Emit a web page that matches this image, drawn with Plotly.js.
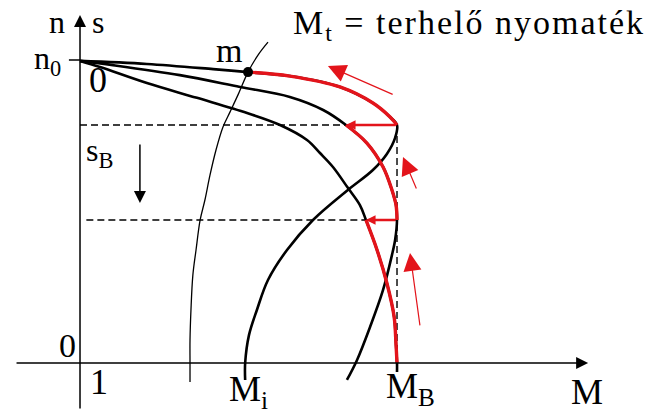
<!DOCTYPE html>
<html>
<head>
<meta charset="utf-8">
<script src="https://cdn.plot.ly/plotly-3.0.1.min.js"></script>
<style>html,body{margin:0;padding:0;background:#fff;}#chart{width:672px;height:414px;}</style>
</head>
<body>
<div id="chart"></div>
<script>
// Torque M (x, in units of M_B) vs slip s (y, 0 at n0 .. 1 at standstill)
const curve1_M = [0, .211, .420, .530, .662, .820, .924, .978, 1.000, .994, .968, .924, .845, .735, .653, .593, .558, .533, .521, .521];
const curve1_s = [.003, .013, .030, .040, .053, .089, .142, .188, .2145, .257, .310, .363, .429, .528, .627, .726, .825, .908, 1.000, 1.056];
const curve2_M = [0, .104, .315, .505, .662, .767, .839, .905, .956, .984, .997, 1.000, .994, .984, .956, .915, .874, .842];
const curve2_s = [.003, .017, .050, .089, .122, .165, .2145, .274, .353, .429, .479, .528, .594, .644, .759, .881, .990, 1.056];
const curve3_M = [0, .063, .211, .369, .527, .631, .716, .757, .798, .845, .883, .902, .937, .968, .991, .997, 1.000, 1.000];
const curve3_s = [.003, .023, .076, .125, .175, .2145, .264, .307, .353, .422, .479, .528, .627, .736, .848, .941, 1.000, 1.030];
const load_M = [.593, .562, .530, .498, .473, .451, .429, .410, .394, .379, .366, .356, .350, .347, .347, .347];
const load_s = [-.059, -.017, .040, .116, .172, .221, .297, .380, .462, .528, .627, .710, .825, .924, 1.000, 1.063];
const mIndex = 3;          // operating point m on curve 1
const peak1 = 8, jump2 = 6, peak2 = 11, jump3 = 11, end3 = 16;
const sB1 = .2145, sB2 = .528;
const n0Tick_M = [-.035, 0], n0Tick_s = [0, 0];
// red annotation arrows: [tailM, tailS, headM, headS]
const redArrows = [[.991, .1155, .782, .0198], [1.063, .429, 1.019, .320], [1.073, .881, 1.041, .637]];

const red = '#e3141b';
const font = 'Liberation Serif, Times New Roman, serif';

const traces = [
  {x: n0Tick_M, y: n0Tick_s, mode: 'lines', line: {color: '#000', width: 1.5}},
  {x: [0, curve1_M[peak1]], y: [sB1, sB1], mode: 'lines', line: {color: '#000', width: 1.4, dash: '7px,4px'}},
  {x: [0.02, curve2_M[peak2]], y: [sB2, sB2], mode: 'lines', line: {color: '#000', width: 1.4, dash: '7px,4px'}},
  {x: [1, 1], y: [sB1, 0.985], mode: 'lines', line: {color: '#000', width: 1.4, dash: '7px,4px'}},
  {x: load_M, y: load_s, mode: 'lines', line: {color: '#000', width: 1.3, shape: 'spline'}},
  {x: curve1_M, y: curve1_s, mode: 'lines', line: {color: '#000', width: 2.6, shape: 'spline'}},
  {x: curve2_M, y: curve2_s, mode: 'lines', line: {color: '#000', width: 2.6, shape: 'spline'}},
  {x: curve3_M, y: curve3_s, mode: 'lines', line: {color: '#000', width: 2.6, shape: 'spline'}},
  {x: curve1_M.slice(mIndex, peak1 + 1), y: curve1_s.slice(mIndex, peak1 + 1), mode: 'lines', line: {color: red, width: 3.4, shape: 'spline'}},
  {x: curve2_M.slice(jump2, peak2 + 1), y: curve2_s.slice(jump2, peak2 + 1), mode: 'lines', line: {color: red, width: 3.4, shape: 'spline'}},
  {x: curve3_M.slice(jump3, end3 + 1), y: curve3_s.slice(jump3, end3 + 1), mode: 'lines', line: {color: red, width: 3.4, shape: 'spline'}},
  {x: [curve1_M[mIndex]], y: [curve1_s[mIndex]], mode: 'markers', marker: {color: '#000', size: 10}}
];

function arrow(tM, tS, hM, hS, color, width, size) {
  return {x: hM, y: hS, ax: tM, ay: tS, xref: 'x', yref: 'y', axref: 'x', ayref: 'y', text: '',
          showarrow: true, arrowhead: 2, arrowsize: size, arrowwidth: width, arrowcolor: color, standoff: 0, startstandoff: 0};
}
function label(text, M, s, size) {
  return {x: M, y: s, xref: 'x', yref: 'y', text: text, showarrow: false, xanchor: 'center', yanchor: 'middle',
          font: {family: font, size: size, color: '#000'}};
}

const annotations = [
  arrow(0, 1.155, 0, -0.1485, '#000', 1.5, 1.6),
  arrow(-0.205, 1, 1.603, 1, '#000', 1.5, 1.6),
  arrow(0.189, 0.274, 0.189, 0.472, '#000', 1.5, 1.6),
  arrow(curve1_M[peak1], curve1_s[peak1], curve2_M[jump2], curve2_s[jump2], red, 2.4, 0.8),
  arrow(curve2_M[peak2], curve2_s[peak2], curve3_M[jump3], curve3_s[jump3], red, 2.4, 0.8),
  ...redArrows.map(a => arrow(a[0], a[1], a[2], a[3], red, 1.2, 3)),
  label('n', -0.073, -0.125, 32),
  label('s', 0.057, -0.125, 32),
  label('n<sub>0</sub>', -0.101, 0.0, 32),
  label('0', 0.057, 0.066, 36),
  label('s<sub>B</sub>', 0.063, 0.304, 32),
  label('0', -0.041, 0.941, 34),
  label('1', 0.060, 1.063, 36),
  label('M<sub>i</sub>', 0.530, 1.093, 36),
  label('M<sub>B</sub>', 1.044, 1.083, 36),
  label('M', 1.599, 1.096, 36),
  label('m', 0.470, -0.033, 34),
  label('<span style="letter-spacing:2px">M<sub>t</sub> = terhelő nyomaték</span>', 1.226, -0.116, 34)
];

const layout = {
  width: 672, height: 414,
  margin: {l: 0, r: 0, t: 0, b: 0},
  paper_bgcolor: '#fff', plot_bgcolor: '#fff',
  showlegend: false,
  xaxis: {range: [-0.2524, 1.8675], visible: false, fixedrange: true},
  yaxis: {range: [1.1683, -0.198], visible: false, fixedrange: true},
  annotations: annotations
};

Plotly.newPlot('chart', traces, layout, {staticPlot: true, displayModeBar: false});
</script>
</body>
</html>
